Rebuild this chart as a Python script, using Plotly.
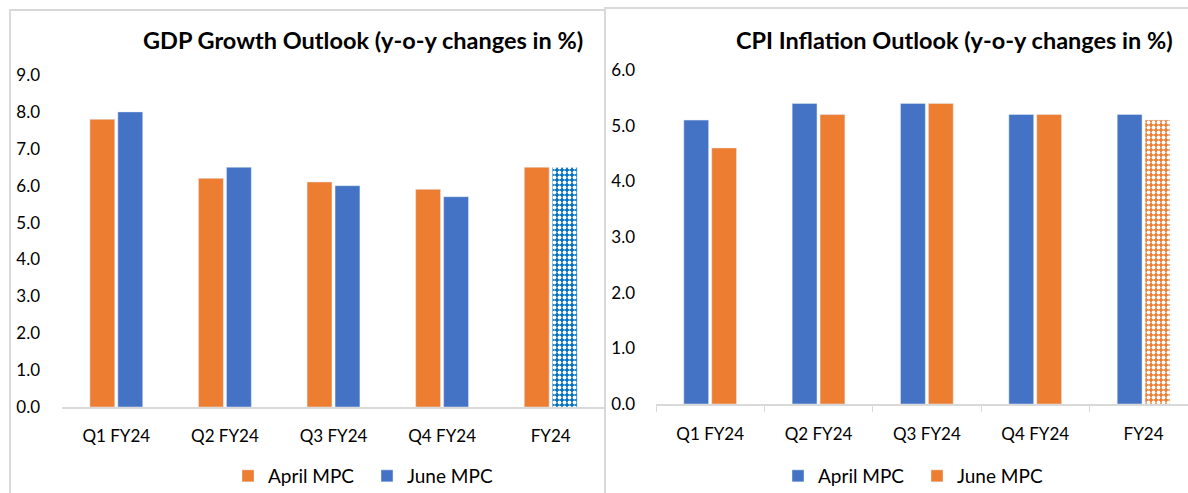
import plotly.graph_objects as go

categories = ["Q1 FY24", "Q2 FY24", "Q3 FY24", "Q4 FY24", "FY24"]
gdp_april = [7.8, 6.2, 6.1, 5.9, 6.5]
gdp_june = [8.0, 6.5, 6.0, 5.7, 6.5]
cpi_april = [5.1, 5.4, 5.4, 5.2, 5.2]
cpi_june = [4.6, 5.2, 5.4, 5.2, 5.1]
gdp_ticks = [0, 1, 2, 3, 4, 5, 6, 7, 8, 9]
cpi_ticks = [0, 1, 2, 3, 4, 5, 6]

ORANGE = "#ED7D31"
BLUE = "#4472C4"
PAT_BLUE = "#0070C0"
FONT = "Lato"
W, H = 1188, 493

fig = go.Figure()

def px(x):
    return x / W

def py(y):
    return 1 - y / H

# Left chart: GDP
fig.add_trace(go.Bar(x=categories, y=gdp_april, name="April MPC", marker_color=ORANGE,
                     xaxis="x", yaxis="y", offsetgroup="a1", legend="legend"))
fig.add_trace(go.Bar(x=categories[:4], y=gdp_june[:4], name="June MPC", marker_color=BLUE,
                     xaxis="x", yaxis="y", offsetgroup="b1", legend="legend"))
fig.add_trace(go.Bar(x=categories[4:], y=gdp_june[4:], name="June MPC", marker_color=PAT_BLUE,
                     marker_pattern=dict(shape=".", fgcolor="white", bgcolor=PAT_BLUE, size=5, solidity=0.45,
                                         fillmode="replace"),
                     xaxis="x", yaxis="y", offsetgroup="b1", showlegend=False, legend="legend"))

# Right chart: CPI
fig.add_trace(go.Bar(x=categories, y=cpi_april, name="April MPC", marker_color=BLUE,
                     xaxis="x2", yaxis="y2", offsetgroup="a2", legend="legend2"))
fig.add_trace(go.Bar(x=categories[:4], y=cpi_june[:4], name="June MPC", marker_color=ORANGE,
                     xaxis="x2", yaxis="y2", offsetgroup="b2", legend="legend2"))
fig.add_trace(go.Bar(x=categories[4:], y=cpi_june[4:], name="June MPC", marker_color=ORANGE,
                     marker_pattern=dict(shape=".", fgcolor="white", bgcolor=ORANGE, size=5, solidity=0.45,
                                         fillmode="replace"),
                     xaxis="x2", yaxis="y2", offsetgroup="b2", showlegend=False, legend="legend2"))

axis_font = dict(family=FONT, size=17, color="#000000")
legend_font = dict(family=FONT, size=19, color="#000000")

fig.update_layout(
    width=W, height=H,
    margin=dict(l=0, r=0, t=0, b=0, autoexpand=False),
    paper_bgcolor="white", plot_bgcolor="white",
    barmode="group", bargap=0.485, bargroupgap=0.11,
    font=dict(family=FONT, color="#000000"),
    xaxis=dict(domain=[px(62), px(605)], range=[-0.5, 4.5], anchor="y", automargin=False,
               showline=True, linecolor="#D9D9D9", linewidth=1.5, ticks="",
               tickfont=axis_font, showgrid=False, ticklabelstandoff=13),
    yaxis=dict(domain=[py(407), py(75)], range=[0, 9], anchor="x", automargin=False,
               tickvals=gdp_ticks, ticktext=[f"{v:.1f}" for v in gdp_ticks],
               tickfont=axis_font, showgrid=False, zeroline=False, showline=False,
               ticklabelstandoff=21),
    xaxis2=dict(domain=[px(656), 1.0], range=[-0.5, 4.41], anchor="y2", automargin=False,
                showline=True, linecolor="#D9D9D9", linewidth=1.5, ticks="outside",
                tickson="boundaries", ticklen=6, tickcolor="#D9D9D9",
                tickfont=axis_font, showgrid=False, ticklabelstandoff=14),
    yaxis2=dict(domain=[py(404), py(70)], range=[0, 6], anchor="x2", automargin=False,
                tickvals=cpi_ticks, ticktext=[f"{v:.1f}" for v in cpi_ticks],
                tickfont=axis_font, showgrid=False, zeroline=False, showline=False,
                ticklabelstandoff=20),
    legend=dict(orientation="h", xref="container", yref="container",
                x=px(228), y=py(457), xanchor="left", yanchor="top",
                font=legend_font, itemwidth=30, entrywidth=94,
                bgcolor="rgba(0,0,0,0)"),
    legend2=dict(orientation="h", xref="container", yref="container",
                 x=px(778), y=py(457), xanchor="left", yanchor="top",
                 font=legend_font, itemwidth=30, entrywidth=94,
                 bgcolor="rgba(0,0,0,0)"),
    shapes=[
        dict(type="rect", xref="paper", yref="paper", x0=px(10), x1=px(605), y0=-0.1, y1=py(10),
             line=dict(color="#D9D9D9", width=2), fillcolor="rgba(0,0,0,0)", layer="below"),
        dict(type="rect", xref="paper", yref="paper", x0=px(605), x1=1.1, y0=-0.1, y1=py(8),
             line=dict(color="#D9D9D9", width=2), fillcolor="rgba(0,0,0,0)", layer="below"),
    ],
    annotations=[
        dict(text="<b>GDP Growth Outlook (y-o-y changes in %)</b>", xref="paper", yref="paper",
             x=px(363), y=py(40), xanchor="center", yanchor="middle", showarrow=False,
             font=dict(family=FONT, size=23.5, color="#000000")),
        dict(text="<b>CPI Inflation Outlook (y-o-y changes in %)</b>", xref="paper", yref="paper",
             x=px(954), y=py(40), xanchor="center", yanchor="middle", showarrow=False,
             font=dict(family=FONT, size=23.5, color="#000000")),
    ],
)

fig.write_html("out.html", config={"displayModeBar": False},
               post_script="document.body.style.margin='0';")
